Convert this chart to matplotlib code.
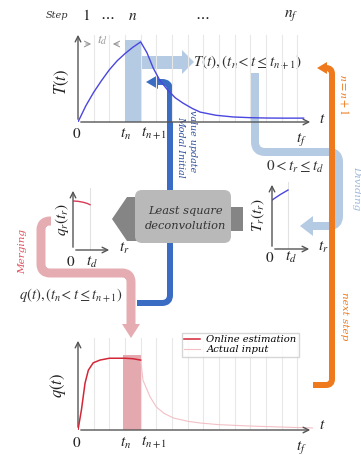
import matplotlib
matplotlib.use("Agg")
import matplotlib.pyplot as plt
from matplotlib.path import Path
from matplotlib.patches import PathPatch, Polygon, FancyBboxPatch, Rectangle

plt.rcParams['mathtext.fontset'] = 'stix'
plt.rcParams['font.family'] = 'DejaVu Serif'

# full response T(t), one value per read-off time (grid step = 1)
t_T = [0, 0.5, 1.0, 1.5, 2.0, 2.5, 3.0, 3.5, 4.0, 4.4, 4.8, 5.2, 5.7, 6.2,
       6.7, 7.3, 7.8, 8.8, 9.9, 11.0, 12.1, 13.2, 14.4]
T_vals = [0, 0.18, 0.33, 0.46, 0.58, 0.68, 0.76, 0.83, 0.89, 0.77, 0.60, 0.47,
          0.36, 0.27, 0.21, 0.15, 0.11, 0.075, 0.056, 0.048, 0.044, 0.043, 0.043]

# online estimate of q(t) up to t_{n+1}, and the actual input after it
t_est = [0, 0.22, 0.45, 0.66, 0.97, 1.4, 2.0, 2.5, 3.0, 3.5, 4.0]
q_est = [0, 0.22, 0.51, 0.65, 0.73, 0.76, 0.78, 0.78, 0.78, 0.775, 0.76]
t_act = [4.0, 4.15, 4.6, 5.0, 5.5, 6.1, 7.0, 7.8, 9.0, 11.0, 13.0, 15.0]
q_act = [0.76, 0.54, 0.36, 0.25, 0.18, 0.13, 0.095, 0.076, 0.058, 0.043, 0.032, 0.022]

# local window 0 < t_r <= t_d (t_d = 1)
tr_q = [0.05, 0.3, 0.6, 0.85, 1.0]
qr_vals = [0.79, 0.785, 0.77, 0.75, 0.73]
tr_T = [0.0, 0.5, 1.0]
Tr_vals = [0.73, 0.81, 0.88]

n_grid = 14
t_n, t_n1 = 3, 4

W, H = 361, 455
fig = plt.figure(figsize=(W / 100, H / 100), dpi=100)

# background layer in pixel units for the flow arrows and notes
bg = fig.add_axes([0, 0, 1, 1], zorder=0)
bg.set_xlim(0, W)
bg.set_ylim(H, 0)
bg.axis('off')

LIGHT_BLUE = '#b5cbe4'
ORANGE = '#ef7a1d'
DARK_BLUE = '#3a6cc4'
PINK = '#e5adb2'
AXIS = '#555555'


def rounded(points, r):
    verts = [points[0]]
    codes = [Path.MOVETO]
    for i in range(1, len(points) - 1):
        (px, py), (cx, cy), (nx, ny) = points[i - 1], points[i], points[i + 1]
        d1 = ((px - cx) ** 2 + (py - cy) ** 2) ** 0.5
        d2 = ((nx - cx) ** 2 + (ny - cy) ** 2) ** 0.5
        a = (cx + r * (px - cx) / d1, cy + r * (py - cy) / d1)
        b = (cx + r * (nx - cx) / d2, cy + r * (ny - cy) / d2)
        verts += [a, (cx, cy), b]
        codes += [Path.LINETO, Path.CURVE3, Path.CURVE3]
    verts.append(points[-1])
    codes.append(Path.LINETO)
    return Path(verts, codes)


def band(points, width, color, r=9, z=1):
    bg.add_patch(PathPatch(rounded(points, r), fill=False, lw=width * 0.72,
                           edgecolor=color, capstyle='butt', joinstyle='round',
                           zorder=z))


def head(tip, base_c, half, color, z=1):
    tx, ty = tip
    bx, by = base_c
    if tx == bx:
        pts = [(tx, ty), (bx - half, by), (bx + half, by)]
    else:
        pts = [(tx, ty), (bx, by - half), (bx, by + half)]
    bg.add_patch(Polygon(pts, closed=True, color=color, lw=0, zorder=z))


# T(t) slice sent to the dividing step
band([(141, 62), (183, 62)], 13, LIGHT_BLUE)
head((194, 62), (182, 62), 12, LIGHT_BLUE)
band([(255, 73), (255, 152), (339, 152), (339, 226), (312, 226)], 8, LIGHT_BLUE, r=10)
head((300, 226), (313, 226), 10, LIGHT_BLUE)

# least square deconvolution block
bg.add_patch(Rectangle((133, 207), 110, 24, color='#858585', lw=0, zorder=2))
bg.add_patch(Polygon([(112, 219), (127, 197), (140, 197), (140, 241), (127, 241)],
                     closed=True, color='#858585', lw=0, zorder=2))

# modal initial value update
band([(137, 303), (170, 303), (170, 82), (157, 82)], 6, DARK_BLUE, r=8, z=2)
head((146, 82), (158, 82), 7, DARK_BLUE, z=2)

bg.add_patch(FancyBboxPatch((137, 192), 92, 49, boxstyle='round,pad=2,rounding_size=7',
                            facecolor='#b9b9b9', edgecolor='none', zorder=3))
bg.text(185, 211, 'Least square', ha='center', va='center', fontsize=8.2,
        style='italic', color='#333333', zorder=4)
bg.text(185, 226, 'deconvolution', ha='center', va='center', fontsize=8.2,
        style='italic', color='#333333', zorder=4)

# merging back into q(t)
band([(51, 221), (41, 221), (41, 273), (131, 273), (131, 325)], 9, PINK, r=9, z=3)
head((131, 338), (131, 324), 9, PINK, z=3)

# next step loop
band([(313, 385), (332, 385), (332, 68), (326, 68)], 6, ORANGE, r=6, z=4)
head((317, 68), (327, 68), 6, ORANGE, z=4)

# flow annotations
bg.text(193, 62, r'$T(t), (t_n\!<t\leq t_{n+1})$', ha='left', va='center', fontsize=11,
        color='#333333')
bg.text(19, 295, r'$q(t), (t_n\!<t\leq t_{n+1})$', ha='left', va='center', fontsize=10.5,
        color='#333333')
bg.text(266, 167, r'$0 < t_r \leq t_d$', ha='left', va='center', fontsize=11,
        color='#333333')
bg.text(181, 147, 'Modal Initial', rotation=-90, ha='center', va='center',
        fontsize=6.8, style='italic', color='#2f4f9a')
bg.text(192, 141, 'value update', rotation=-90, ha='center', va='center',
        fontsize=6.8, style='italic', color='#2f4f9a')
bg.text(344, 95, r'$n=n+1$', rotation=-90, ha='center', va='center',
        fontsize=8.5, color=ORANGE)
bg.text(344, 316, 'next step', rotation=-90, ha='center', va='center',
        fontsize=7.5, style='italic', color=ORANGE)
bg.text(357, 188, 'Dividing', rotation=-90, ha='center', va='center',
        fontsize=7.5, style='italic', color='#9fb9da')
bg.text(23, 251, 'Merging', rotation=90, ha='center', va='center',
        fontsize=7.5, style='italic', color='#e0505e')

# step counter
bg.text(57, 15, 'Step', ha='center', va='center', fontsize=7, style='italic',
        color='#333333')
for x, s in [(86, r'$1$'), (107, r'$\cdots$'), (133, r'$n$'), (202, r'$\cdots$'),
             (291, r'$n_f$')]:
    bg.text(x, 16, s, ha='center', va='center', fontsize=11, color='#222222')

# t_d marker
bg.annotate('', xy=(94, 44), xytext=(83, 44),
            arrowprops=dict(arrowstyle='->', color='#999999', lw=0.8))
bg.annotate('', xy=(110, 44), xytext=(121, 44),
            arrowprops=dict(arrowstyle='->', color='#999999', lw=0.8))
bg.text(102, 40, r'$t_d$', ha='center', va='center', fontsize=10, color='#999999')


def px_axes(left, top, right, bottom):
    a = fig.add_axes([left / W, 1 - bottom / H, (right - left) / W, (bottom - top) / H],
                     zorder=5)
    a.patch.set_alpha(0)
    for s in a.spines.values():
        s.set_visible(False)
    a.set_xticks([])
    a.set_yticks([])
    a.annotate('', xy=(1.0, 0), xytext=(0, 0), xycoords='axes fraction',
               arrowprops=dict(arrowstyle='->', color=AXIS, lw=1))
    a.annotate('', xy=(0, 1.0), xytext=(0, 0), xycoords='axes fraction',
               arrowprops=dict(arrowstyle='->', color=AXIS, lw=1))
    return a


# response T(t)
ax_T = px_axes(78, 32, 313, 122)
ax_T.set_xlim(0, 15)
ax_T.set_ylim(0, 1)
for k in range(1, n_grid + 1):
    ax_T.axvline(k, ymax=0.97, color='#e8e8e8', lw=0.8, zorder=0)
ax_T.axvspan(t_n, t_n1, ymax=0.91, color=LIGHT_BLUE, lw=0, zorder=1)
ax_T.plot(t_T, T_vals, color='#4a46e0', lw=1, zorder=3)

# estimated input q(t)
ax_q = px_axes(78, 338, 313, 430)
ax_q.set_xlim(0, 15)
ax_q.set_ylim(0, 1)
for k in range(1, n_grid + 1):
    ax_q.axvline(k, color='#e8e8e8', lw=0.8, zorder=0)
ax_q.axvspan(t_n - 0.1, t_n1, ymax=0.82, color='#e4a9af', lw=0, zorder=1)
ax_q.plot(t_act, q_act, color='#f2c0c6', lw=0.8, zorder=2, label='Actual input')
ax_q.plot(t_est, q_est, color='#d32638', lw=1.1, zorder=3, label='Online estimation')
handles, labels = ax_q.get_legend_handles_labels()
ax_q.legend(handles[::-1], labels[::-1], loc='upper left',
            bbox_to_anchor=(182 / W, 1 - 333 / H), bbox_transform=fig.transFigure,
            prop=dict(family='DejaVu Serif', style='italic', size=7.2),
            fancybox=False, edgecolor='#cccccc', handlelength=1.6,
            borderpad=0.25, labelspacing=0.1, handletextpad=0.6, borderaxespad=0)

# local windows
ax_qr = px_axes(73, 188, 112, 250)
ax_qr.set_xlim(0, 39 / 17)
ax_qr.set_ylim(0, 1)
ax_qr.axvline(1, color='#e2e2e2', lw=0.8, zorder=0)
ax_qr.plot(tr_q, qr_vals, color='#d83a55', lw=1)

ax_Tr = px_axes(272, 182, 312, 249)
ax_Tr.set_xlim(0, 40 / 16)
ax_Tr.set_ylim(0, 1)
ax_Tr.axvline(1, color='#e2e2e2', lw=0.8, zorder=0)
ax_Tr.plot(tr_T, Tr_vals, color='#4a46e0', lw=1)

# axis labels
lab = dict(ha='center', va='center', color='#222222')
bg.text(62, 82, r'$T(t)$', rotation=90, fontsize=12, **lab)
bg.text(58, 385, r'$q(t)$', rotation=90, fontsize=12, **lab)
bg.text(62, 219, r'$q_r(t_r)$', rotation=90, fontsize=11, **lab)
bg.text(258, 215, r'$T_r(t_r)$', rotation=90, fontsize=11, **lab)
for y0, yf in [(134, 140), (443, 448)]:
    bg.text(77, y0, r'$0$', fontsize=11, **lab)
    bg.text(126, y0, r'$t_n$', fontsize=11, **lab)
    bg.text(154, y0, r'$t_{n+1}$', fontsize=11, **lab)
    bg.text(301, yf, r'$t_f$', fontsize=11, **lab)
bg.text(322, 119, r'$t$', fontsize=11, **lab)
bg.text(322, 425, r'$t$', fontsize=11, **lab)
bg.text(71, 262, r'$0$', fontsize=11, **lab)
bg.text(92, 262, r'$t_d$', fontsize=11, **lab)
bg.text(124, 248, r'$t_r$', fontsize=11, **lab)
bg.text(270, 258, r'$0$', fontsize=11, **lab)
bg.text(291, 257, r'$t_d$', fontsize=11, **lab)
bg.text(323, 247, r'$t_r$', fontsize=11, **lab)

fig.savefig('out.png', dpi=100)
